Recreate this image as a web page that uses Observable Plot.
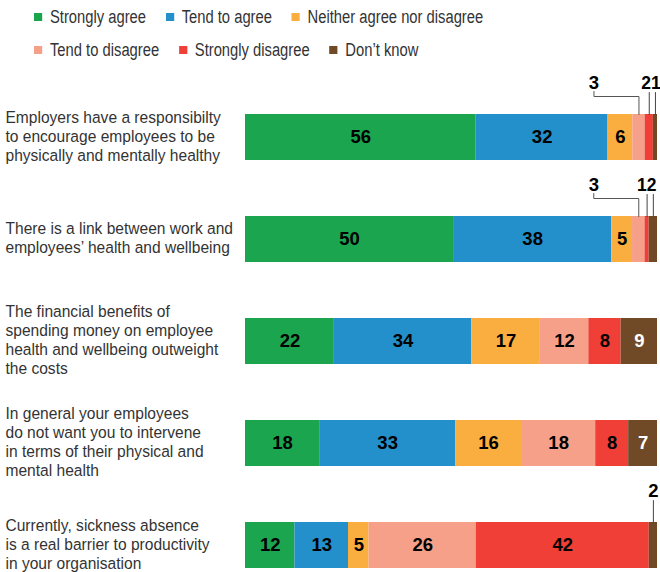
<!DOCTYPE html>
<html>
<head>
<meta charset="utf-8">
<script src="https://cdn.jsdelivr.net/npm/d3@7"></script>
<script src="https://cdn.jsdelivr.net/npm/@observablehq/plot@0.6"></script>
<style>
  body { margin: 0; background: #fff; font-family: "Liberation Sans", Arial, sans-serif; }
  #legend { position: relative; width: 660px; height: 66px; overflow: hidden; }
  .lrow { position: absolute; left: 34px; height: 22px; display: flex; align-items: center; font-size: 18px; color: #333; white-space: nowrap; transform: scaleX(0.82); transform-origin: 0 50%; }
  .item { display: flex; align-items: center; margin-right: 24px; }
  .sw { width: 10px; height: 8px; margin-right: 9.5px; }
  #chart svg { display: block; }
</style>
</head>
<body>
<div id="legend"></div>
<div id="chart"></div>
<script>
// ---- data ----
const statements = [
  "Employers have a responsibilty\nto encourage employees to be\nphysically and mentally healthy",
  "There is a link between work and\nemployees’ health and wellbeing",
  "The financial benefits of\nspending money on employee\nhealth and wellbeing outweight\nthe costs",
  "In general your employees\ndo not want you to intervene\nin terms of their physical and\nmental health",
  "Currently, sickness absence\nis a real barrier to productivity\nin your organisation"
];
const seriesNames = ["Strongly agree", "Tend to agree", "Neither agree nor disagree", "Tend to disagree", "Strongly disagree", "Don’t know"];
const seriesColors = ["#1ca54f", "#2490cb", "#fbae40", "#f6a089", "#ef3f36", "#704a27"];
const stronglyAgree    = [56, 50, 22, 18, 12];
const tendToAgree      = [32, 38, 34, 33, 13];
const neither          = [6, 5, 17, 16, 5];
const tendToDisagree   = [3, 3, 12, 18, 26];
const stronglyDisagree = [2, 1, 8, 8, 42];
const dontKnow         = [1, 2, 9, 7, 2];

const seriesValues = [stronglyAgree, tendToAgree, neither, tendToDisagree, stronglyDisagree, dontKnow];

// ---- derived table: normalized stack per statement ----
const records = [];
statements.forEach((s, i) => {
  const vals = seriesValues.map(arr => arr[i]);
  const total = d3.sum(vals);
  let acc = 0;
  vals.forEach((v, j) => {
    records.push({
      statement: s, series: seriesNames[j], value: v,
      x1: acc / total, x2: (acc + v) / total, mid: (acc + v / 2) / total
    });
    acc += v;
  });
});
const inside = records.filter(d => d.value >= 4);
const callouts = records.filter(d => d.value < 4);
const elbow = callouts.filter(d => d.series === "Tend to disagree");
const straight = callouts.filter(d => d.series !== "Tend to disagree");
// rows where both "Strongly disagree" and "Don't know" carry callouts: labels sit side by side
const pairRows = new Set(straight.filter(d => d.series === "Strongly disagree").map(d => d.statement));
const pairLeft = straight.filter(d => pairRows.has(d.statement) && d.series === "Strongly disagree");
const pairRight = straight.filter(d => pairRows.has(d.statement) && d.series === "Don’t know");
const single = straight.filter(d => !pairRows.has(d.statement));

// ---- legend ----
const legend = document.getElementById("legend");
[[0, 1, 2], [3, 4, 5]].forEach((idx, r) => {
  const row = document.createElement("div");
  row.className = "lrow";
  row.style.top = (r === 0 ? 6 : 39) + "px";
  idx.forEach(j => {
    const it = document.createElement("div");
    it.className = "item";
    const sw = document.createElement("span");
    sw.className = "sw";
    sw.style.background = seriesColors[j];
    const tx = document.createElement("span");
    tx.textContent = seriesNames[j];
    it.appendChild(sw); it.appendChild(tx);
    row.appendChild(it);
  });
  legend.appendChild(row);
});

// ---- chart ----
const lineShape = {draw(context, l) { context.moveTo(0, 0); context.lineTo(0, -l); }};
const elbowShape = {draw(context) {
  context.moveTo(0, 0); context.lineTo(0, -18); context.lineTo(-45, -18); context.lineTo(-45, -23);
}};

const chart = Plot.plot({
  width: 660,
  height: 506,
  marginLeft: 245,
  marginRight: 3,
  marginTop: 46,
  marginBottom: 3,
  style: {fontFamily: "'Liberation Sans', Arial, sans-serif", background: "#fff"},
  x: {domain: [0, 1], axis: null},
  y: {domain: statements, axis: null, paddingInner: 0.5523, paddingOuter: 0},
  color: {domain: seriesNames, range: seriesColors},
  marks: [
    Plot.barX(records, {y: "statement", x1: "x1", x2: "x2", fill: "series"}),
    Plot.text(inside.filter(d => d.series !== "Don’t know"), {
      y: "statement", x: "mid", text: d => String(d.value),
      fill: "#000", fontWeight: "bold", fontSize: 18.5
    }),
    Plot.text(inside.filter(d => d.series === "Don’t know"), {
      y: "statement", x: "mid", text: d => String(d.value),
      fill: "#fff", fontWeight: "bold", fontSize: 18.5
    }),
    Plot.vector(straight, {
      y: "statement", x: "mid", dy: -23, anchor: "start", length: 22, rotate: 0,
      shape: lineShape, stroke: "#444", strokeWidth: 1, fill: "none"
    }),
    Plot.vector(elbow, {
      y: "statement", x: "mid", dy: -23, anchor: "start", length: 23, rotate: 0,
      shape: elbowShape, stroke: "#555", strokeWidth: 1, fill: "none"
    }),
    Plot.text(single, {
      y: "statement", x: "mid", dy: -54, text: d => String(d.value),
      fill: "#000", fontWeight: "bold", fontSize: 18.5
    }),
    Plot.text(pairLeft, {
      y: "statement", x: "x2", dx: -2.5, dy: -54, textAnchor: "end", text: d => String(d.value),
      fill: "#000", fontWeight: "bold", fontSize: 17.5
    }),
    Plot.text(pairRight, {
      y: "statement", x: "x1", dx: -2.5, dy: -54, textAnchor: "start", text: d => String(d.value),
      fill: "#000", fontWeight: "bold", fontSize: 17.5
    }),
    Plot.text(elbow, {
      y: "statement", x: "mid", dx: -45, dy: -54, text: d => String(d.value),
      fill: "#000", fontWeight: "bold", fontSize: 18.5
    }),
    Plot.text(statements, {
      y: d => d, text: d => d, frameAnchor: "left", dx: -240, dy: -2, textAnchor: "start",
      fontSize: 16.5, lineHeight: 1.1515, fill: "#333"
    })
  ]
});
// condensed look for the statement labels (narrow face emulated by horizontal scaling about x = 5)
const textGroups = chart.querySelectorAll('g[aria-label="text"]');
const labelGroup = textGroups[textGroups.length - 1];
if (labelGroup) {
  const prev = labelGroup.getAttribute("transform") || "";
  labelGroup.setAttribute("transform", "translate(5,0) scale(0.944,1) translate(-5,0) " + prev);
}
document.getElementById("chart").appendChild(chart);
</script>
</body>
</html>
